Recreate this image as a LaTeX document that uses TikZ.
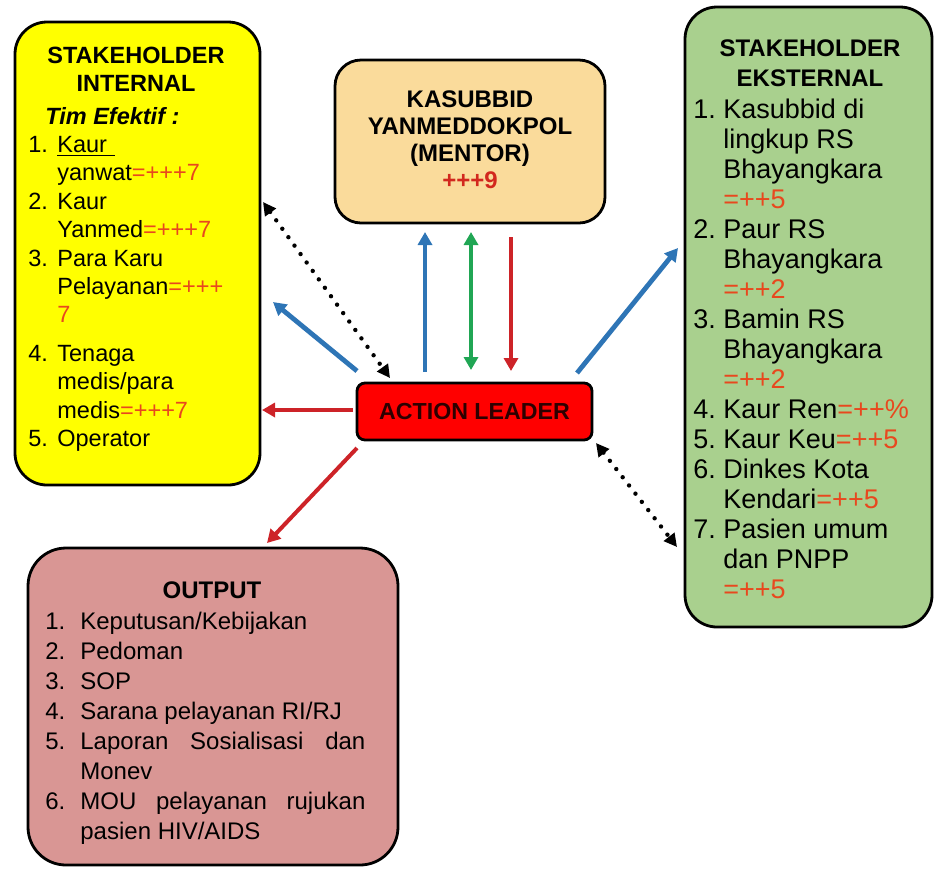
\documentclass[tikz,border=0pt]{standalone}
\usepackage{fontspec}
\setmainfont{Liberation Sans}
\usetikzlibrary{
  arrows.meta
  , fit
  , positioning
}

\definecolor{internalfill}{RGB}{255,255,0}
\definecolor{mentorfill}{RGB}{250,219,155}
\definecolor{externalfill}{RGB}{169,208,142}
\definecolor{outputfill}{RGB}{217,150,148}
\definecolor{leaderfill}{RGB}{255,0,0}
\definecolor{leadertext}{RGB}{45,0,0}
\definecolor{arrowblue}{RGB}{46,117,182}
\definecolor{arrowgreen}{RGB}{32,166,84}
\definecolor{arrowred}{RGB}{205,35,40}
\definecolor{scorered}{RGB}{232,72,30}
\definecolor{mentorred}{RGB}{210,40,30}

\newlength{\numw}
\newcommand{\nitem}[2]{\makebox[\numw][l]{#1}#2}
\newcommand{\ncont}[1]{\hspace*{\numw}#1}
\newcommand{\score}[1]{\textcolor{scorered}{#1}}

\begin{document}
\begin{tikzpicture}[x=0.5pt, y=-0.5pt,
  panel/.style={draw=black, line width=1.4pt, inner sep=0pt},
  head/.style={align=center, inner sep=0pt, anchor=north},
  list/.style={align=left, inner sep=0pt, anchor=north west},
  link/.style={line width=2.4pt, -{Triangle[length=6.5pt, width=7pt]}},
  dots/.style={line width=2.2pt, line cap=round, dash pattern=on 0pt off 5.2pt,
    {Triangle[length=6.5pt, width=6.5pt]}-{Triangle[length=6.5pt, width=6.5pt]}},
]
  \useasboundingbox (0,0) rectangle (935,869);

  % boxes
  \node[panel, fill=internalfill, rounded corners=16pt, fit={(15,22) (260,485)}] (internal) {};
  \node[panel, fill=mentorfill, rounded corners=13pt, fit={(335,60) (605,223)}] (mentor) {};
  \node[panel, fill=externalfill, rounded corners=16pt, fit={(685,7) (932,627)}] (external) {};
  \node[panel, fill=outputfill, rounded corners=19pt, fit={(28,548) (398,865)}] (output) {};
  \node[panel, fill=leaderfill, rounded corners=4pt, fit={(357,383) (592,440)}] (leader) {};

  % texts
  \node[head, font=\bfseries\fontsize{11.75}{14}\selectfont] (internalhead) at (136,46.6)
    {STAKEHOLDER\\INTERNAL};
  \node[list, font=\fontsize{11.75}{14.2}\selectfont\setlength{\numw}{14.5pt}] (internallist) at (28,106.6)
    {\hspace*{8.5pt}\textbf{\textit{Tim Efektif :}}\\
     \nitem{1.}{\underline{Kaur\hspace{4pt}}}\\
     \ncont{yanwat\score{=+++7}}\\
     \nitem{2.}{Kaur}\\
     \ncont{Yanmed\score{=+++7}}\\
     \nitem{3.}{Para Karu}\\
     \ncont{Pelayanan\score{=+++}}\\
     \ncont{\score{7}}\\[5pt]
     \nitem{4.}{Tenaga}\\
     \ncont{medis/para}\\
     \ncont{medis\score{=+++7}}\\
     \nitem{5.}{Operator}};

  \node[head, font=\bfseries\fontsize{12}{13.5}\selectfont] (mentorhead) at (470,90.4)
    {KASUBBID\\YANMEDDOKPOL\\(MENTOR)\\\textcolor{mentorred}{+++9}};

  \node[head, font=\bfseries\fontsize{12}{15}\selectfont] (externalhead) at (810,39.4)
    {STAKEHOLDER\\EKSTERNAL};
  \node[list, font=\fontsize{13.5}{15}\selectfont\setlength{\numw}{15pt}] (externallist) at (693,98.3)
    {\nitem{1.}{Kasubbid di}\\
     \ncont{lingkup RS}\\
     \ncont{Bhayangkara}\\
     \ncont{\score{=++5}}\\
     \nitem{2.}{Paur RS}\\
     \ncont{Bhayangkara}\\
     \ncont{\score{=++2}}\\
     \nitem{3.}{Bamin RS}\\
     \ncont{Bhayangkara}\\
     \ncont{\score{=++2}}\\
     \nitem{4.}{Kaur Ren\score{=++\%}}\\
     \nitem{5.}{Kaur Keu\score{=++5}}\\
     \nitem{6.}{Dinkes Kota}\\
     \ncont{Kendari\score{=++5}}\\
     \nitem{7.}{Pasien umum}\\
     \ncont{dan PNPP}\\
     \ncont{\score{=++5}}};

  \node[head, font=\bfseries\fontsize{12}{15}\selectfont] (outputhead) at (212,581.4) {OUTPUT};
  \node[list, font=\fontsize{12}{15}\selectfont\setlength{\numw}{17.5pt}] (outputlist) at (45,611.4)
    {\nitem{1.}{Keputusan/Kebijakan}\\
     \nitem{2.}{Pedoman}\\
     \nitem{3.}{SOP}\\
     \nitem{4.}{Sarana pelayanan RI/RJ}\\
     \nitem{5.}{\makebox[142.5pt][s]{Laporan\hfill Sosialisasi\hfill dan}}\\
     \ncont{Monev}\\
     \nitem{6.}{\makebox[142.5pt][s]{MOU\hfill pelayanan\hfill rujukan}}\\
     \ncont{pasien HIV/AIDS}};

  \node[font=\bfseries\fontsize{11.6}{14}\selectfont, text=leadertext] (leaderlabel) at (leader.center)
    {ACTION LEADER};

  % arrow ends
  \coordinate (intDotEnd) at (263,202);
  \coordinate (intDotStart) at (390,378);
  \coordinate (intBlueStart) at (357,371);
  \coordinate (intBlueEnd) at (273,302);
  \coordinate (intRedStart) at (353,410);
  \coordinate (intRedEnd) at (262,410);
  \coordinate (outRedStart) at (357,448);
  \coordinate (outRedEnd) at (267,543);
  \coordinate (menBlueStart) at (425,372);
  \coordinate (menBlueEnd) at (425,232);
  \coordinate (menGreenLow) at (471,370);
  \coordinate (menGreenHigh) at (471,232);
  \coordinate (menRedStart) at (511,237);
  \coordinate (menRedEnd) at (511,371);
  \coordinate (extBlueStart) at (577,373);
  \coordinate (extBlueEnd) at (678,248);
  \coordinate (extDotStart) at (596,443);
  \coordinate (extDotEnd) at (677,547);

  % arrows
  \draw[dots] (intDotEnd) -- (intDotStart);
  \draw[link, arrowblue] (intBlueStart) -- (intBlueEnd);
  \draw[link, arrowred, line width=2pt] (intRedStart) -- (intRedEnd);
  \draw[link, arrowred, line width=2pt] (outRedStart) -- (outRedEnd);
  \draw[link, arrowblue] (menBlueStart) -- (menBlueEnd);
  \draw[link, arrowgreen, {Triangle[length=6.5pt, width=7pt]}-{Triangle[length=6.5pt, width=7pt]}]
    (menGreenLow) -- (menGreenHigh);
  \draw[link, arrowred, line width=2pt] (menRedStart) -- (menRedEnd);
  \draw[link, arrowblue] (extBlueStart) -- (extBlueEnd);
  \draw[dots] (extDotStart) -- (extDotEnd);
\end{tikzpicture}
\end{document}
